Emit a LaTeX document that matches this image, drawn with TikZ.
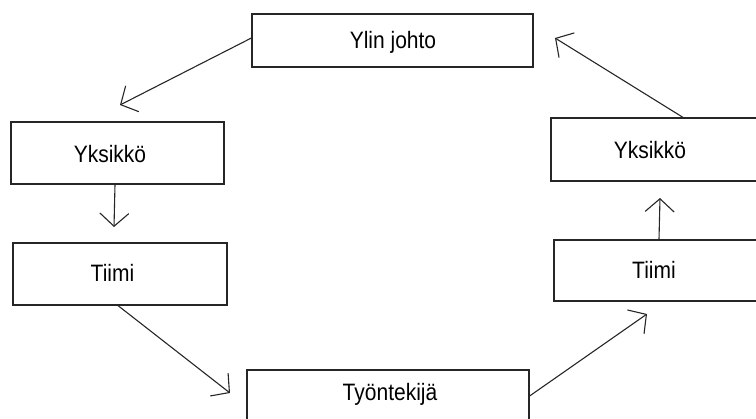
\documentclass[tikz,border=0pt]{standalone}
\usepackage{fontspec}
\setmainfont{Liberation Sans}
\usetikzlibrary{arrows.meta}
\newcommand\stretchtxt[1]{\scalebox{1}[1.13]{#1}}
\begin{document}
\begin{tikzpicture}[x=1pt,y=-1pt,
  box/.style={draw=black!85, line width=1.2pt, rectangle, inner sep=0pt},
  lbl/.style={font=\fontsize{21}{25}\selectfont, text=black, inner sep=0pt},
  arr/.style={draw=black!85, line width=1.1pt, -{Straight Barb[length=13pt,width=29pt,line width=1.1pt]}}]
\useasboundingbox (0,0) rectangle (756,419);
\clip (0,0) rectangle (756,419);
% boxes
\node[box, minimum width=281pt, minimum height=53pt] (yl) at (392.5,40.5) {};
\node[box, minimum width=213pt, minimum height=62pt] (y1) at (117.5,153) {};
\node[box, minimum width=214pt, minimum height=62pt] (t1) at (120,274) {};
\node[box, minimum width=282pt, minimum height=62pt] (ty) at (388,401) {};
\node[box, minimum width=214pt, minimum height=63pt] (y2) at (658,149.5) {};
\node[box, minimum width=214pt, minimum height=61pt] (t2) at (661,270.5) {};
% labels
\node[lbl] (lyl) at (393,42) {\stretchtxt{Ylin johto}};
\node[lbl] (ly1) at (110,154) {\stretchtxt{Yksikkö}};
\node[lbl] (lt1) at (112.5,273) {\stretchtxt{Tiimi}};
\node[lbl] (lty) at (390,394) {\stretchtxt{Työntekijä}};
\node[lbl] (ly2) at (650,150) {\stretchtxt{Yksikkö}};
\node[lbl] (lt2) at (654,270) {\stretchtxt{Tiimi}};
% free arrow ends
\coordinate (e1) at (120,105);
\coordinate (e2) at (114,227);
\coordinate (e3) at (230,393);
\coordinate (e4) at (647,314);
\coordinate (e5) at (660,198);
\coordinate (e6) at (555,38);
% connectors
\draw[arr] ([yshift=2.5pt]yl.west) -- (e1);
\draw[arr] ([xshift=-2.5pt]y1.south) -- (e2);
\draw[arr] ([xshift=-2pt]t1.south) -- (e3);
\draw[arr] ([yshift=5pt]ty.east) -- (e4);
\draw[arr] ([xshift=-2pt]t2.north) -- (e5);
\draw[arr] ([xshift=25pt]y2.north) -- (e6);
\end{tikzpicture}
\end{document}
